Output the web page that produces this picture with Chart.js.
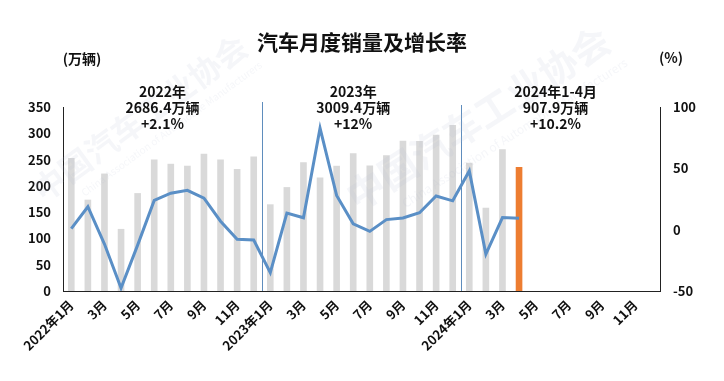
<!DOCTYPE html>
<html><head><meta charset="utf-8">
<script src="https://cdn.jsdelivr.net/npm/chart.js@4"></script>
<style>html,body{margin:0;padding:0;background:#fff;}#wrap{width:724px;height:381px;}</style>
</head><body><div id="wrap"><canvas id="c" width="724" height="381"></canvas></div>
<script>
const tickLabels = ['2022年1月','','3月','','5月','','7月','','9月','','11月','',
  '2023年1月','','3月','','5月','','7月','','9月','','11月','',
  '2024年1月','','3月','','5月','','7月','','9月','','11月',''];
const sales = [253.1,173.7,223.4,118.1,186.2,250.2,242.0,238.3,261.0,250.0,232.0,255.9,
  164.9,197.6,245.1,215.9,238.2,262.2,238.7,258.2,285.8,285.3,297.0,315.6,
  243.9,158.4,269.4,235.9,null,null,null,null,null,null,null,null];
const growth = [0.9,18.7,-11.7,-47.6,-12.6,23.8,29.7,32.1,25.7,6.9,-7.9,-8.4,
  -35.0,13.5,9.7,82.7,27.9,4.8,-1.4,8.2,9.5,13.8,27.4,23.5,
  47.9,-19.9,9.9,9.3,null,null,null,null,null,null,null,null];
const leftTicks = [0,50,100,150,200,250,300,350];
const rightTicks = [-50,0,50,100];
const title = '汽车月度销量及增长率';
const leftUnit = '(万辆)';
const rightUnit = '(%)';
const yearNotes = [['2022年','2686.4万辆','+2.1%'],['2023年','3009.4万辆','+12%'],['2024年1-4月','907.9万辆','+10.2%']];
const yearBreaks = [11.5, 23.5];

const FONT = "'Noto Sans CJK SC','Noto Sans',sans-serif";
let lastIdx = 0; sales.forEach((v,i)=>{ if(v!==null) lastIdx=i; });
const barColors = sales.map((v,i)=> i===lastIdx ? '#ed7d31' : '#d9d9d9');

const deco = {
  id:'deco',
  beforeDatasetsDraw(chart){
    const {ctx, scales:{x}, chartArea:a} = chart;
    ctx.save();
    ctx.strokeStyle = '#5f8dbd'; ctx.lineWidth = 1;
    const tops = [102, 105];
    yearBreaks.forEach((b,i)=>{
      const px = Math.round(x.getPixelForValue(b))+0.5;
      ctx.beginPath(); ctx.moveTo(px, tops[i]); ctx.lineTo(px, a.bottom); ctx.stroke();
    });
    ctx.restore();
  },
  afterDatasetsDraw(chart){
    const {ctx, scales:{x}} = chart;
    ctx.save();
    // watermark
    ctx.fillStyle = 'rgba(175,188,205,0.13)';
    const wm = [[140,118,-0.63,32],[478,118,-0.57,38]];
    wm.forEach(([cx,cy,ang,fs])=>{
      ctx.save(); ctx.translate(cx,cy); ctx.rotate(ang);
      ctx.textAlign='center'; ctx.textBaseline='middle';
      ctx.font = `bold ${fs}px ${FONT}`;
      ctx.fillText('中国汽车工业协会',0,0);
      ctx.font = `${Math.round(fs*0.32)}px ${FONT}`;
      ctx.fillText('China Association of Automobile Manufacturers',fs*0.6,fs*0.85);
      ctx.restore();
    });
    ctx.fillStyle = '#111';
    ctx.textAlign='center'; ctx.textBaseline='middle';
    ctx.font = `bold 21px ${FONT}`;
    ctx.fillText(title, 362, 42);
    ctx.font = `bold 14px ${FONT}`;
    ctx.fillText(leftUnit, 82, 59);
    ctx.fillText(rightUnit, 671, 58);
    const noteX = [5.5, 17, 29.2];
    yearNotes.forEach((lines,i)=>{
      const px = x.getPixelForValue(noteX[i]);
      lines.forEach((t,j)=> ctx.fillText(t, px, 92 + j*16));
    });
    ctx.restore();
  }
};

new Chart(document.getElementById('c'), {
  data:{ labels: tickLabels, datasets:[
    {type:'line', data:growth, yAxisID:'y1', borderColor:'#5a8fc6', borderWidth:3, pointRadius:0, tension:0, order:0, spanGaps:false},
    {type:'bar', data:sales, yAxisID:'y', backgroundColor:barColors, barPercentage:0.4, categoryPercentage:1, order:1}
  ]},
  options:{
    responsive:false, animation:false,
    layout:{padding:{top:107,left:0,right:0,bottom:0}},
    plugins:{legend:{display:false}, tooltip:{enabled:false}, title:{display:false}},
    scales:{
      x:{ grid:{display:false, drawTicks:false}, border:{display:true, color:'#222', width:1},
          ticks:{autoSkip:false, maxRotation:45, minRotation:45, padding:6, color:'#111', font:{family:FONT, size:13, weight:'bold'}},
          afterFit(s){ s.height = 90; } },
      y:{ position:'left', min:0, max:350, grid:{display:false, drawTicks:false}, border:{display:true, color:'#222', width:1},
          afterBuildTicks(s){ s.ticks = leftTicks.map(v=>({value:v})); },
          ticks:{padding:12, color:'#111', font:{family:FONT, size:13, weight:'bold'}},
          afterFit(s){ s.width = 63; } },
      y1:{ position:'right', min:-50, max:100, grid:{display:false, drawTicks:false}, border:{display:true, color:'#222', width:1},
          afterBuildTicks(s){ s.ticks = rightTicks.map(v=>({value:v})); },
          ticks:{padding:13, color:'#111', font:{family:FONT, size:13, weight:'bold'}},
          afterFit(s){ s.width = 64; } }
    }
  },
  plugins:[deco]
});
</script></body></html>
